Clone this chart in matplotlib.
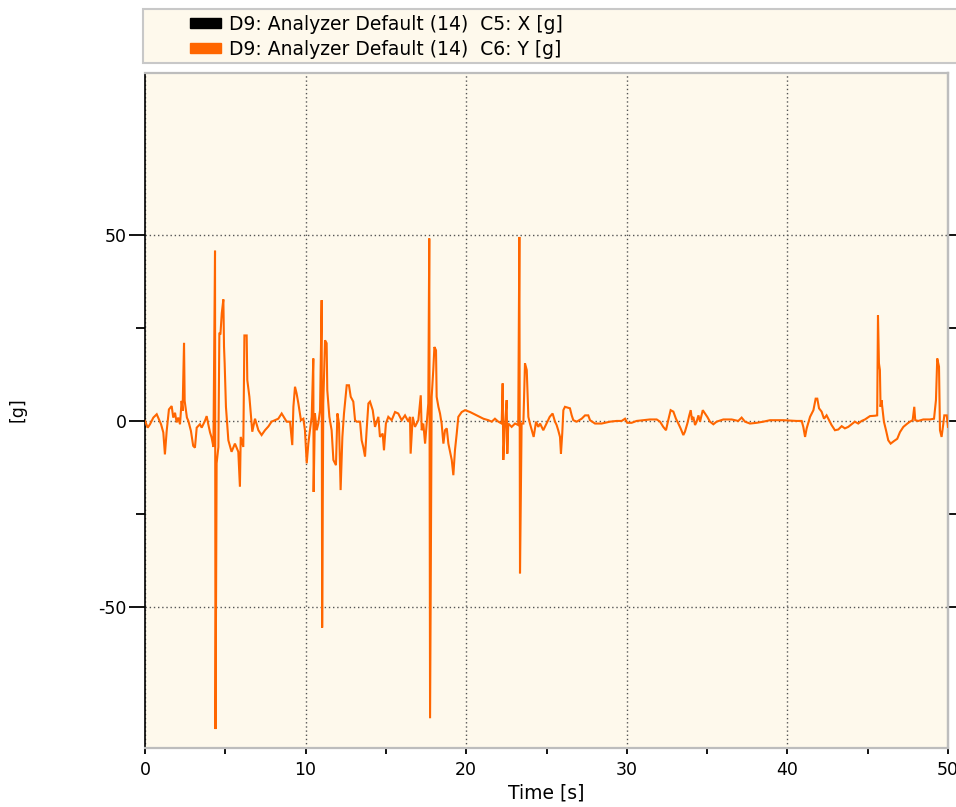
import matplotlib
matplotlib.use("Agg")
import matplotlib.pyplot as plt
import matplotlib.patches as mpatches
from matplotlib.ticker import FixedLocator

plt.rcParams['font.family'] = ['DejaVu Sans']
plt.rcParams['axes.unicode_minus'] = False

# time [s] and Y acceleration [g]
time_s = [
    0.00, 0.17, 0.31, 0.52, 0.73, 0.87, 1.00, 1.14, 1.24, 1.35, 1.49, 1.66, 1.76, 1.87,
    1.97, 2.07, 2.18, 2.28, 2.34, 2.43, 2.47, 2.55, 2.61, 2.70, 2.86, 3.00, 3.11, 3.22,
    3.42, 3.53, 3.73, 3.84, 3.94, 4.05, 4.15, 4.26, 4.36, 4.39, 4.46, 4.57, 4.63, 4.70,
    4.78, 4.88, 4.92, 4.96, 5.04, 5.19, 5.39, 5.60, 5.81, 5.91, 5.96, 6.12, 6.19, 6.33,
    6.37, 6.50, 6.58, 6.68, 6.85, 7.06, 7.26, 7.47, 7.68, 7.88, 8.09, 8.30, 8.51, 8.82,
    9.03, 9.17, 9.24, 9.34, 9.44, 9.55, 9.71, 9.86, 9.96,
    10.07, 10.17, 10.27, 10.38, 10.48, 10.50, 10.58, 10.69, 10.79, 10.90, 11.00, 11.03,
    11.10, 11.21, 11.31, 11.35, 11.48, 11.62, 11.73, 11.89, 11.98, 12.08, 12.18, 12.29,
    12.39, 12.56, 12.70, 12.81, 12.97, 13.08, 13.18, 13.39, 13.49, 13.59, 13.70, 13.80,
    13.91, 14.01, 14.18, 14.32, 14.53, 14.63, 14.80, 14.88, 15.00, 15.15, 15.36, 15.57,
    15.77, 15.98, 16.19, 16.40, 16.50, 16.54, 16.67, 16.81, 17.02, 17.17, 17.23, 17.33,
    17.44, 17.54, 17.64, 17.70, 17.75, 17.85, 17.95, 18.02, 18.12, 18.16, 18.27, 18.37,
    18.47, 18.58, 18.68, 18.79, 18.89, 19.10, 19.20, 19.30, 19.41, 19.51, 19.72, 19.93,
    20.24, 20.65, 21.07, 21.38, 21.59, 21.79, 22.00, 22.21, 22.27, 22.31, 22.42, 22.52,
    22.56, 22.62, 22.83, 23.04, 23.24, 23.31, 23.35, 23.45, 23.56, 23.66, 23.77, 23.87,
    23.97, 24.20, 24.35, 24.49, 24.60, 24.80, 25.00, 25.20, 25.38, 25.53, 25.63, 25.73,
    25.84, 25.90, 25.98, 26.05, 26.15, 26.46, 26.57, 26.67, 26.88, 27.19, 27.40, 27.60,
    27.71, 28.02, 28.43, 28.95, 29.37, 29.68, 29.89, 30.03, 30.30, 30.61, 31.03, 31.44,
    31.86, 32.07, 32.27, 32.44, 32.58, 32.73, 32.90, 33.06, 33.21, 33.35, 33.52, 33.62,
    33.77, 33.89, 33.98, 34.06, 34.14, 34.25, 34.35, 34.46, 34.56, 34.73, 34.87, 35.01,
    35.18, 35.39, 35.59, 36.01, 36.53, 36.94, 37.15, 37.36, 37.67, 38.09, 38.50, 38.92,
    39.75, 40.58, 40.89, 40.99, 41.10, 41.20, 41.41, 41.62, 41.76, 41.86, 41.97, 42.13,
    42.28, 42.44, 42.55, 42.75, 42.96, 43.17, 43.38, 43.58, 43.79, 44.00, 44.20, 44.41,
    44.62, 44.83, 45.14, 45.45, 45.59, 45.64, 45.70, 45.76, 45.80, 45.86, 45.93, 46.01,
    46.14, 46.28, 46.43, 46.64, 46.84, 47.01, 47.22, 47.47, 47.63, 47.80, 47.90, 47.96,
    48.15, 48.46, 48.88, 49.13, 49.25, 49.33, 49.44, 49.50, 49.60, 49.71, 49.77, 49.92,
    50.00,
]
accel_y = [
    0.0, -1.8, -0.9, 0.9, 1.8, 0.4, -0.9, -3.1, -9.0, -2.7, 3.1, 4.0, 0.9, 2.2,
    -0.4, 0.9, -0.9, 5.4, 2.7, 21.0, 5.4, 2.7, 0.9, 0.0, -2.7, -6.7, -7.2, -1.8,
    -0.9, -1.8, 0.0, 1.3, -0.9, -3.1, -4.5, -7.0, 45.8, -82.9, -11.4, -7.0, 23.5, 23.5,
    29.0, 32.7, 20.0, 15.5, 3.8, -5.2, -8.3, -6.1, -8.3, -17.7, -4.3, -7.0, 23.0, 23.0,
    11.0, 6.5, 2.4, -2.9, 0.6, -2.5, -3.8, -2.5, -1.5, -0.2, 0.2, 0.6, 2.0, -0.2,
    -0.2, -6.5, 3.8, 9.2, 7.4, 4.7, 0.2, 0.6, -2.5,
    -11.4, -6.1, -2.5, 1.1, 16.8, -19.1, 2.0, -2.5, -0.7, 2.9, 32.5, -55.6,
    4.7, 21.7, 20.9, 8.3, 1.1, -2.5, -10.5, -11.9, 2.0, -0.7, -18.6, -4.3,
    2.0, 9.6, 9.6, 6.5, 5.2, 0.2, -0.2, -0.2, -5.2, -7.0, -9.6, -2.5,
    4.7, 5.2, 2.9, -1.6, 1.1, -4.3, -3.4, -7.9, -0.7, 1.1, 0.2, 2.4,
    2.0, 0.2, 1.5, -0.2, 1.1, -8.8, 1.1, -1.6, 0.2, 6.9, -2.5, -0.7,
    -6.1, -0.7, 4.7, 49.1, -80.0, 6.5, 13.7, 19.9, 19.0, 6.5, 3.8, 2.0,
    -0.7, -6.1, -2.5, -2.0, -6.1, -10.5, -14.6, -7.9, -3.4, 1.1, 2.4, 2.9,
    2.4, 1.5, 0.6, 0.2, -0.2, 0.6, -0.2, -0.7, 10.1, -10.5, -0.7, 5.6,
    -8.8, -0.7, -1.6, -0.7, -1.1, 49.5, -41.0, -0.7, -0.7, 15.5, 13.7, 1.1,
    -0.7, -4.3, -0.2, -1.6, -0.7, -2.5, -0.7, 1.1, 2.0, -0.2, -1.1, -2.5,
    -4.3, -8.8, -3.4, 2.9, 3.8, 3.4, 1.5, 0.2, -0.2, 0.6, 1.5, 1.5,
    0.2, -0.7, -0.7, -0.2, 0.0, 0.0, 0.6, -0.5, -0.5, 0.0, 0.2, 0.4,
    0.4, -0.2, -1.6, -2.5, 0.2, 2.9, 2.5, 0.6, -0.7, -2.0, -3.8, -2.9,
    -0.7, 1.5, 2.9, 0.2, 1.1, -1.1, -0.2, 1.5, -0.2, 2.9, 2.0, 1.1,
    -0.2, -0.9, -0.2, 0.4, 0.4, 0.0, 0.9, -0.2, -0.7, -0.5, -0.2, 0.2,
    0.2, 0.0, 0.0, -1.6, -4.3, -2.0, 1.1, 2.9, 6.0, 6.0, 3.4, 2.5,
    0.6, 1.5, 0.6, -1.1, -2.5, -2.3, -1.4, -2.0, -1.6, -0.9, -0.2, -0.7,
    0.0, 0.4, 1.3, 1.4, 1.5, 28.4, 15.5, 13.7, 3.8, 5.6, 2.9, -0.2,
    -2.5, -5.2, -6.1, -5.4, -4.8, -3.0, -1.6, -0.7, -0.2, 0.2, 3.8, 0.2,
    0.0, 0.4, 0.4, 0.6, 5.6, 16.8, 14.6, -2.5, -4.3, -0.7, 1.5, 1.5,
    -1.6,
]

legend_labels = ["D9: Analyzer Default (14)  C5: X [g]",
                 "D9: Analyzer Default (14)  C6: Y [g]"]
legend_colors = ["#000000", "#FF6600"]

W, H = 956, 807
fig = plt.figure(figsize=(W / 100, H / 100), dpi=100)
ax = fig.add_axes([145 / W, 1 - 748 / H, (948 - 145) / W, (748 - 72.7) / H])
ax.set_facecolor("#FEF9EC")

ax.plot(time_s, accel_y, color="#FF6600", lw=1.5, solid_joinstyle="miter", zorder=3)

ax.set_xlim(0, 50)
ax.set_ylim(-88, 93.7)
ax.set_xticks([0, 10, 20, 30, 40, 50])
ax.xaxis.set_minor_locator(FixedLocator([5, 15, 25, 35, 45]))
ax.set_yticks([-50, 0, 50])
ax.yaxis.set_minor_locator(FixedLocator([-25, 25]))

ax.grid(True, which="major", color="#555555", lw=1.0, linestyle=(0, (1, 2)))
ax.set_axisbelow(True)

ax.tick_params(axis="x", which="both", direction="out", length=4.5, width=1.3,
               pad=5, labelsize=12.5, color="black")
ax.tick_params(axis="y", which="major", direction="out", length=11.5, width=1.3,
               pad=1.5, labelsize=12.5)
ax.tick_params(axis="y", which="minor", direction="out", length=6.5, width=1.3)

# short outward ticks on the right edge, no labels
right = ax.secondary_yaxis("right")
right.set_yticks([-50, -25, 0, 25, 50])
right.tick_params(direction="out", length=5.8, width=1.3, labelright=False)
right.spines["right"].set_color("#BDBDBD")
right.spines["right"].set_linewidth(1.6)

ax.spines["left"].set_color("black")
ax.spines["left"].set_linewidth(1.2)
for s in ["top", "right", "bottom"]:
    ax.spines[s].set_color("#BDBDBD")
    ax.spines[s].set_linewidth(1.6)

ax.set_xlabel("Time [s]", fontsize=13.5, labelpad=3)
fig.text(18 / W, 1 - 410 / H, "[g]", rotation=90, fontsize=12.5, ha="center", va="center")

# legend box above the axes
box = mpatches.Rectangle((143 / W, 1 - 63 / H), (958 - 143) / W, 54 / H,
                         transform=fig.transFigure, facecolor="#FEF9EC",
                         edgecolor="#C8C8C8", lw=1.5)
fig.patches.append(box)
handles = [mpatches.Patch(color=c) for c in legend_colors]
fig.legend(handles, legend_labels, loc="upper left",
           bbox_to_anchor=(190 / W, 1 - 15 / H), frameon=False, fontsize=13.5,
           handlelength=1.65, handleheight=0.45, handletextpad=0.45,
           labelspacing=0.3, borderpad=0, borderaxespad=0)

fig.savefig("out.png", dpi=100)
